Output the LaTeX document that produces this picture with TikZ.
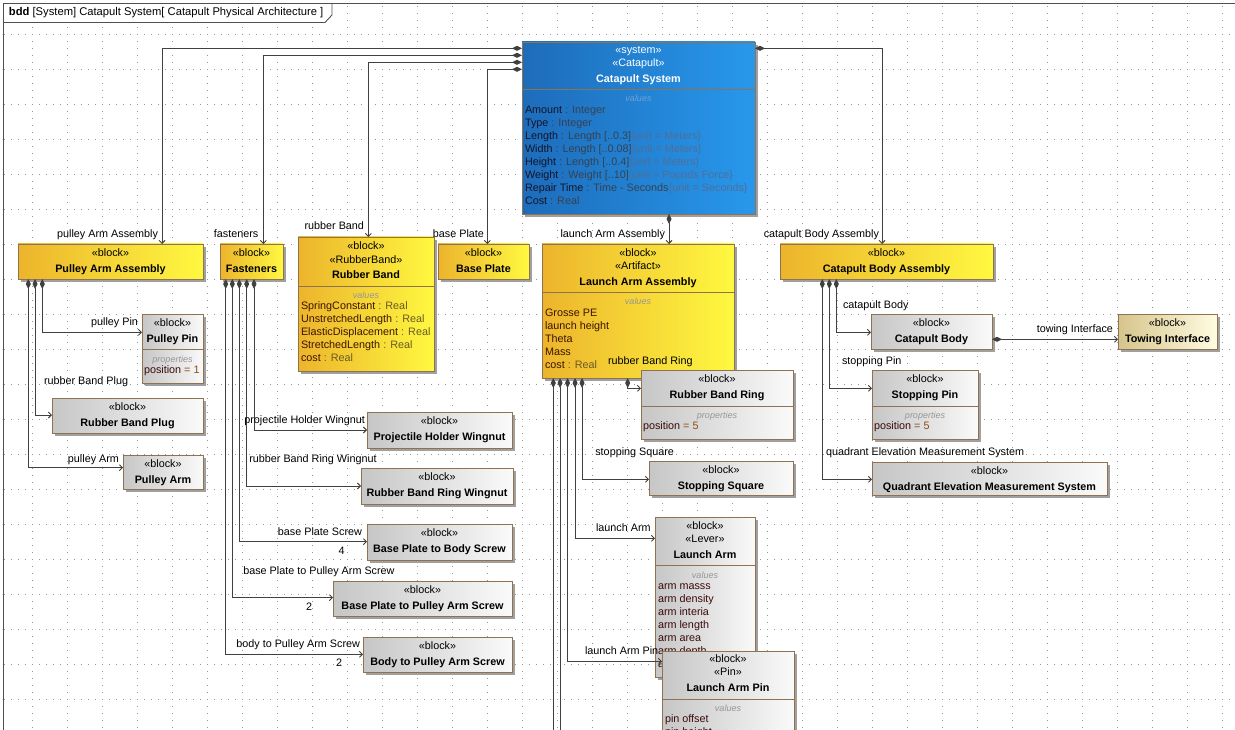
\documentclass[tikz,border=0pt]{standalone}
\usepackage{fontspec}
\setmainfont{Liberation Sans}
\usetikzlibrary{arrows.meta,calc}
\definecolor{bordc}{RGB}{143,115,80}
\definecolor{linec}{RGB}{64,64,64}
\definecolor{gridc}{RGB}{150,150,150}
\definecolor{framec}{RGB}{80,80,80}
\definecolor{shc}{RGB}{160,160,160}
\definecolor{yl}{RGB}{236,180,44}
\definecolor{yr}{RGB}{255,248,64}
\definecolor{gl}{RGB}{198,198,198}
\definecolor{gr}{RGB}{250,250,250}
\definecolor{bl}{RGB}{29,108,186}
\definecolor{br}{RGB}{40,152,236}
\definecolor{tl}{RGB}{214,196,140}
\definecolor{tr}{RGB}{255,252,225}
\definecolor{bnm}{RGB}{20,20,40}
\definecolor{bty}{RGB}{55,65,80}
\definecolor{bun}{RGB}{80,110,150}
\definecolor{bvc}{RGB}{110,160,210}
\definecolor{ynm}{RGB}{60,20,0}
\definecolor{yty}{RGB}{105,90,35}
\definecolor{gnm}{RGB}{60,10,10}
\definecolor{gval}{RGB}{140,75,20}
\definecolor{smc}{RGB}{150,150,150}
\newcommand\fs{\fontsize{10.8}{13}\selectfont}
\newcommand\fsm{\fontsize{9}{11}\selectfont\itshape}
\tikzset{
  txt/.style={inner sep=0pt, outer sep=0pt, font=\fs, text height=7.5pt, text depth=1pt},
  txtb/.style={txt, font=\fs\bfseries},
  sm/.style={txt, font=\fsm, text=smc},
  blockbox/.style={draw=bordc, line width=0.9pt, inner sep=0pt, outer sep=0pt},
  yel/.style={left color=yl, right color=yr},
  gry/.style={left color=gl, right color=gr},
  blu/.style={left color=bl, right color=br},
  tanbox/.style={left color=tl, right color=tr},
  divline/.style={draw=bordc, line width=0.9pt},
  comp/.style={draw=linec, line width=0.9pt, arrows={Diamond[length=10pt,width=5pt]-Straight Barb[length=3pt,width=6pt]}},
  componly/.style={draw=linec, line width=0.9pt, arrows={Diamond[length=10pt,width=5pt]-}},
  gridl/.style={draw=gridc, line width=0.9pt, dash pattern=on 0.9pt off 6.1pt},
}
\newcommand\blk[6]{%
  \fill[shc] (#2+3,#3+3) rectangle (#4+3,#5+3);
  \node[blockbox,#6,anchor=north west,minimum width={#4-#2},minimum height={#5-#3}] (#1) at (#2,#3) {};
}
\newcommand\sblk[7]{%
  \blk{#1}{#2}{#3}{#4}{#5}{#6}
  \node[txt] (#1-st) at ({(#2+#4)/2},#3+9) {«block»};
  \node[txtb] (#1-ti) at ({(#2+#4)/2},#3+25) {#7};
}
\newcommand\divl[2]{\draw[divline] ($(#1.north west)+(0,#2)$) -- ($(#1.north east)+(0,#2)$);}
\begin{document}
\begin{tikzpicture}[x=1pt,y=-1pt]
\useasboundingbox (0,0) rectangle (1235,730);
\clip (0,0) rectangle (1235,730);
% grid
\foreach \yy in {34,69,...,734} \draw[gridl] (4,\yy) -- (1235,\yy);
\foreach \xx in {32,67,...,1232} \draw[gridl] (\xx,6) -- (\xx,730);
% frame
\fill[white] (3,3) -- (332,3) -- (332,15) -- (325,22.5) -- (3,22.5) -- cycle;
\draw[framec, line width=0.9pt] (3,740) -- (3,3) -- (1240,3);
\draw[framec, line width=0.9pt] (332,3) -- (332,15) -- (325,22.5) -- (3,22.5);
\node[txt,anchor=west,font=\fontsize{11.2}{13}\selectfont] (title) at (9,12.7) {\textbf{bdd} [System] Catapult System[ Catapult Physical Architecture ]};

% system block
\blk{sys}{522}{42}{755}{214}{blu}
\divl{sys}{47}
\node[txt,text=white] (sys-s1) at (638.5,50.7) {«system»};
\node[txt,text=white] (sys-s2) at (638.5,63.7) {«Catapult»};
\node[txtb,text=white] (sys-t) at (638.5,79.3) {Catapult System};
\node[sm,text=bvc] (sys-v) at (638.5,98.3) {values};
\node[txt,anchor=west] (sys-a1) at (525,110.7) {\textcolor{bnm}{Amount} \textcolor{bty}{: Integer}};
\node[txt,anchor=west] (sys-a2) at (525,123.7) {\textcolor{bnm}{Type} \textcolor{bty}{ : Integer}};
\node[txt,anchor=west] (sys-a3) at (525,136.7) {\textcolor{bnm}{Length} \textcolor{bty}{: Length [..0.3]}\textcolor{bun}{\{unit = Meters\}}};
\node[txt,anchor=west] (sys-a4) at (525,149.7) {\textcolor{bnm}{Width} \textcolor{bty}{: Length [..0.08]}\textcolor{bun}{\{unit = Meters\}}};
\node[txt,anchor=west] (sys-a5) at (525,162.7) {\textcolor{bnm}{Height} \textcolor{bty}{: Length [..0.4]}\textcolor{bun}{\{unit = Meters\}}};
\node[txt,anchor=west] (sys-a6) at (525,175.7) {\textcolor{bnm}{Weight} \textcolor{bty}{: Weight [..10]}\textcolor{bun}{\{unit = Pounds Force\}}};
\node[txt,anchor=west] (sys-a7) at (525,188.7) {\textcolor{bnm}{Repair Time} \textcolor{bty}{: Time - Seconds}\textcolor{bun}{\{unit = Seconds\}}};
\node[txt,anchor=west] (sys-a8) at (525,201.7) {\textcolor{bnm}{Cost} \textcolor{bty}{: Real}};

% second row
\sblk{pa}{18}{244}{203}{279}{yel}{Pulley Arm Assembly}
\sblk{fa}{220}{244}{283}{279}{yel}{Fasteners}
\sblk{bp}{438}{244}{529}{279}{yel}{Base Plate}
\sblk{cba}{780}{244}{993}{279}{yel}{Catapult Body Assembly}

\blk{rb}{298}{237}{434}{371}{yel}
\divl{rb}{49}
\node[txt] (rb-s1) at (366,246) {«block»};
\node[txt] (rb-s2) at (366,260) {«RubberBand»};
\node[txtb] (rb-t) at (366,275.5) {Rubber Band};
\node[sm] (rb-v) at (366,295) {values};
\node[txt,anchor=west] (rb-a1) at (301,306.7) {\textcolor{ynm}{SpringConstant} \textcolor{yty}{: Real}};
\node[txt,anchor=west] (rb-a2) at (301,319.7) {\textcolor{ynm}{UnstretchedLength} \textcolor{yty}{: Real}};
\node[txt,anchor=west] (rb-a3) at (301,332.7) {\textcolor{ynm}{ElasticDisplacement} \textcolor{yty}{: Real}};
\node[txt,anchor=west] (rb-a4) at (301,345.7) {\textcolor{ynm}{StretchedLength} \textcolor{yty}{: Real}};
\node[txt,anchor=west] (rb-a5) at (301,358.7) {\textcolor{ynm}{cost} \textcolor{yty}{: Real}};

\blk{la}{542}{244}{734}{378}{yel}
\divl{la}{48}
\node[txt] (la-s1) at (638,253.3) {«block»};
\node[txt] (la-s2) at (638,266.3) {«Artifact»};
\node[txtb] (la-t) at (638,282) {Launch Arm Assembly};
\node[sm] (la-v) at (638,301.7) {values};
\node[txt,anchor=west,text=ynm] (la-a1) at (545,313) {Grosse PE};
\node[txt,anchor=west,text=ynm] (la-a2) at (545,326) {launch height};
\node[txt,anchor=west,text=ynm] (la-a3) at (545,339) {Theta};
\node[txt,anchor=west,text=ynm] (la-a4) at (545,352) {Mass};
\node[txt,anchor=west] (la-a5) at (545,365) {\textcolor{ynm}{cost} \textcolor{yty}{: Real}};

% pulley arm assembly parts
\blk{pp}{142}{314}{203}{383}{gry}
\divl{pp}{35}
\node[txt] (pp-s) at (172.5,323.3) {«block»};
\node[txtb] (pp-t) at (172.5,339.3) {Pulley Pin};
\node[sm] (pp-v) at (172.5,359) {properties};
\node[txt,anchor=west] (pp-a) at (144,370.3) {\textcolor{gnm}{position} \textcolor{gval}{= 1}};
\sblk{rbp}{52}{398}{203}{433}{gry}{Rubber Band Plug}
\sblk{parm}{123}{455}{203}{489}{gry}{Pulley Arm}

% fasteners parts
\sblk{phw}{367}{412}{512}{448}{gry}{Projectile Holder Wingnut}
\sblk{rbrw}{361}{468}{513}{504}{gry}{Rubber Band Ring Wingnut}
\sblk{bpbs}{367}{524}{512}{560}{gry}{Base Plate to Body Screw}
\sblk{bpps}{333}{581}{512}{616}{gry}{Base Plate to Pulley Arm Screw}
\sblk{bpas}{363}{637}{512}{672}{gry}{Body to Pulley Arm Screw}

% launch arm assembly parts
\blk{rbr}{641}{370}{793}{439}{gry}
\divl{rbr}{36}
\node[txt] (rbr-s) at (717,379.3) {«block»};
\node[txtb] (rbr-t) at (717,395) {Rubber Band Ring};
\node[sm] (rbr-v) at (717,415) {properties};
\node[txt,anchor=west] (rbr-a) at (643,426) {\textcolor{gnm}{position} \textcolor{gval}{= 5}};
\sblk{ss}{649}{461}{793}{495}{gry}{Stopping Square}

\blk{larm}{655}{517}{755}{677}{gry}
\divl{larm}{48}
\node[txt] (larm-s1) at (705,526) {«block»};
\node[txt] (larm-s2) at (705,539.7) {«Lever»};
\node[txtb] (larm-t) at (705,555) {Launch Arm};
\node[sm] (larm-v) at (705,575) {values};
\node[txt,anchor=west,text=gnm] (larm-a1) at (658,586.7) {arm masss};
\node[txt,anchor=west,text=gnm] (larm-a2) at (658,599.7) {arm density};
\node[txt,anchor=west,text=gnm] (larm-a3) at (658,612.7) {arm interia};
\node[txt,anchor=west,text=gnm] (larm-a4) at (658,625.7) {arm length};
\node[txt,anchor=west,text=gnm] (larm-a5) at (658,638.7) {arm area};
\node[txt,anchor=west,text=gnm] (larm-a6) at (658,651.7) {arm depth};
\node[txt,anchor=west,text=gnm] (larm-a7) at (658,664.7) {arm width};

\blk{lap}{662}{651}{794}{760}{gry}
\divl{lap}{48}
\node[txt] (lap-s1) at (728,659.3) {«block»};
\node[txt] (lap-s2) at (728,672.7) {«Pin»};
\node[txtb] (lap-t) at (728,688) {Launch Arm Pin};
\node[sm] (lap-v) at (728,708) {values};
\node[txt,anchor=west,text=gnm] (lap-a1) at (665,719.3) {pin offset};
\node[txt,anchor=west,text=gnm] (lap-a2) at (665,732.3) {pin height};

% catapult body assembly parts
\sblk{cb}{871}{314}{992}{349}{gry}{Catapult Body}
\sblk{ti}{1118}{314}{1217}{349}{tanbox}{Towing Interface}
\blk{sp}{872}{370}{978}{439}{gry}
\divl{sp}{36}
\node[txt] (sp-s) at (925,379.3) {«block»};
\node[txtb] (sp-t) at (925,395) {Stopping Pin};
\node[sm] (sp-v) at (925,415) {properties};
\node[txt,anchor=west] (sp-a) at (874,426) {\textcolor{gnm}{position} \textcolor{gval}{= 5}};
\sblk{qems}{872}{462}{1107}{495}{gry}{Quadrant Elevation Measurement System}

% connectors from system
\draw[comp] ($(sys.north west)+(0,6.3)$) -| ($(pa.north west)+(144,0)$);
\draw[comp] ($(sys.north west)+(0,13.3)$) -| ($(fa.north west)+(43.3,0)$);
\draw[comp] ($(sys.north west)+(0,20.3)$) -| ($(rb.north west)+(70.3,0)$);
\draw[comp] ($(sys.north west)+(0,27.3)$) -| ($(bp.north west)+(49.3,0)$);
\draw[comp] ($(sys.north east)+(0,6.3)$) -| ($(cba.north west)+(102,0)$);
\draw[comp] ($(sys.south west)+(147,0)$) -- ($(la.north west)+(127,0)$);
% pulley arm assembly
\draw[comp] ($(pa.south west)+(24.3,0)$) |- ($(pp.north west)+(0,18.3)$);
\draw[comp] ($(pa.south west)+(17,0)$) |- ($(rbp.north west)+(0,17)$);
\draw[comp] ($(pa.south west)+(10.3,0)$) |- ($(parm.north west)+(0,12.7)$);
% fasteners
\draw[comp] ($(fa.south west)+(34,0)$) |- ($(phw.north west)+(0,18)$);
\draw[comp] ($(fa.south west)+(26.7,0)$) |- ($(rbrw.north west)+(0,18)$);
\draw[comp] ($(fa.south west)+(19.3,0)$) |- ($(bpbs.north west)+(0,17.7)$);
\draw[comp] ($(fa.south west)+(12.3,0)$) |- ($(bpps.north west)+(0,16.7)$);
\draw[comp] ($(fa.south west)+(5.7,0)$) |- ($(bpas.north west)+(0,17.3)$);
% launch arm assembly
\coordinate (offa) at (553.3,745);
\coordinate (offb) at (560,745);
\draw[componly] ($(la.south west)+(11.3,0)$) -- (offa);
\draw[componly] ($(la.south west)+(18,0)$) -- (offb);
\draw[comp] ($(la.south west)+(25.5,0)$) |- ($(lap.north west)+(0,10.3)$);
\draw[comp] ($(la.south west)+(33,0)$) |- ($(larm.north west)+(0,21.3)$);
\draw[comp] ($(la.south west)+(40,0)$) |- ($(ss.north west)+(0,18.3)$);
\draw[comp] ($(la.south west)+(85.7,0)$) |- ($(rbr.north west)+(0,18.3)$);
% catapult body assembly
\draw[comp] ($(cba.south west)+(56.3,0)$) |- ($(cb.north west)+(0,18.3)$);
\draw[comp] ($(cba.south west)+(49.3,0)$) |- ($(sp.north west)+(0,18.3)$);
\draw[comp] ($(cba.south west)+(42.3,0)$) |- ($(qems.north west)+(0,17.3)$);
\draw[comp] ($(cb.north east)+(0,25.3)$) -- ($(ti.north west)+(0,25.3)$);

% connector labels
\node[txt,anchor=east] (l-pa) at (158,234.3) {pulley Arm Assembly};
\node[txt,anchor=east] (l-fa) at (258.3,234.3) {fasteners};
\node[txt,anchor=east] (l-rb) at (364,226.7) {rubber Band};
\node[txt,anchor=east] (l-bp) at (484,234.3) {base Plate};
\node[txt,anchor=east] (l-la) at (665,234.3) {launch Arm Assembly};
\node[txt,anchor=east] (l-cba) at (879,234.3) {catapult Body Assembly};
\node[txt,anchor=east] (l-pp) at (138,322.7) {pulley Pin};
\node[txt,anchor=west] (l-rbp) at (44,381.7) {rubber Band Plug};
\node[txt,anchor=east] (l-parm) at (119,459) {pulley Arm};
\node[txt,anchor=east] (l-phw) at (365,420) {projectile Holder Wingnut};
\node[txt,anchor=west] (l-rbrw) at (249.3,459.3) {rubber Band Ring Wingnut};
\node[txt,anchor=east] (l-bpbs) at (362,532.3) {base Plate Screw};
\node[txt] (m-bpbs) at (341.7,551) {4};
\node[txt,anchor=west] (l-bpps) at (243.3,571.7) {base Plate to Pulley Arm Screw};
\node[txt] (m-bpps) at (309,607.3) {2};
\node[txt,anchor=east] (l-bpas) at (360,644.3) {body to Pulley Arm Screw};
\node[txt] (m-bpas) at (339,663.3) {2};
\node[txt,anchor=west] (l-rbr) at (608,361.3) {rubber Band Ring};
\node[txt,anchor=east] (l-ss) at (674,452.7) {stopping Square};
\node[txt,anchor=west] (l-larm) at (596,528) {launch Arm};
\node[txt,anchor=west] (l-lap) at (585,651) {launch Arm Pin};
\node[txt,anchor=west] (l-cb) at (843,305) {catapult Body};
\node[txt,anchor=west] (l-sp) at (842,361) {stopping Pin};
\node[txt,anchor=west] (l-qems) at (826,452.7) {quadrant Elevation Measurement System};
\node[txt,anchor=east] (l-ti) at (1113,329.3) {towing Interface};
\end{tikzpicture}
\end{document}
